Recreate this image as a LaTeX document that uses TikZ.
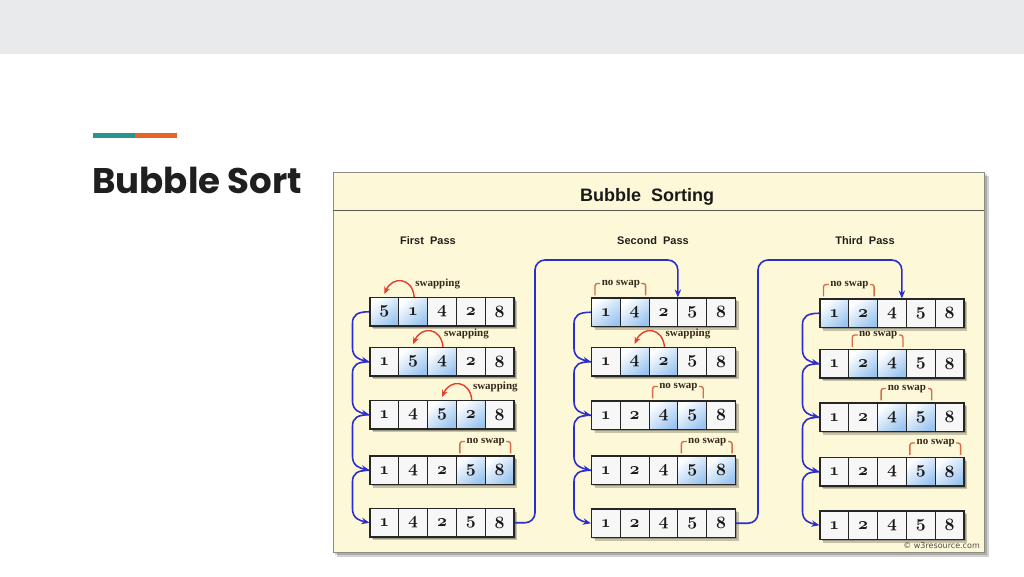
\documentclass[tikz,border=0pt]{standalone}
\usepackage{fontspec}
\usetikzlibrary{calc,arrows.meta}
\newfontfamily\sansb{Liberation Sans}
\newfontfamily\serifl{Liberation Serif}
\newfontfamily\dejav{DejaVu Sans}
\newfontfamily\popp{Poppins}
\definecolor{topbar}{RGB}{232,234,236}
\definecolor{teal}{RGB}{38,150,140}
\definecolor{orng}{RGB}{232,100,35}
\definecolor{panel}{RGB}{253,249,216}
\definecolor{panelborder}{RGB}{140,140,130}
\definecolor{flowblue}{RGB}{45,45,205}
\definecolor{swapred}{RGB}{228,62,42}
\definecolor{brk}{RGB}{214,108,72}
\definecolor{hlblue}{RGB}{155,197,240}
\definecolor{lbltext}{RGB}{55,40,30}
\newcommand\onum[1]{{\usefont{OML}{cmm}{b}{it}#1}}
\def\cw{28.8}
\def\ch{28.5}
\tikzset{
  cell/.style={draw=black!85, line width=1.1pt, fill=white!97!black, minimum width=28.8pt, minimum height=28.5pt, inner sep=0pt, text=black!90, font=\fontsize{17.28}{17}\selectfont},
  hlcell/.style={cell, top color=white, bottom color=hlblue, shading angle=40},
  flow/.style={draw=flowblue, line width=1.6pt, -{Stealth[length=8pt,width=6.5pt]}},
  swaparrow/.style={draw=swapred, line width=1.4pt, -{Stealth[length=7pt,width=6pt]}},
  bracket/.style={draw=brk, line width=1.4pt, rounded corners=2.5pt},
  lbl/.style={font=\fontsize{11}{12}\selectfont\serifl\bfseries, text=lbltext, inner sep=0pt},
  passlbl/.style={font=\fontsize{11}{12}\selectfont\sansb\bfseries, text=black!88},
  rowshadow/.style={fill=black, opacity=0.22}
}
% #1 name, #2 x, #3 y (top), #4 numbers, #5 first highlighted index (9 = none)
\newcommand\cellrow[5]{%
  \fill[rowshadow] (#2+3.2,#3+3.2) rectangle ++(5*\cw,\ch);
  \fill[rowshadow] (#2+1.8,#3+1.8) rectangle ++(5*\cw,\ch);
  \foreach \v [count=\i] in {#4}{%
    \pgfmathtruncatemacro\dd{\i-#5}%
    \ifnum\dd<0
      \node[cell] (#1-\i) at (#2+\i*\cw-0.5*\cw, #3+0.5*\ch) {\onum{\v}};
    \else\ifnum\dd>1
      \node[cell] (#1-\i) at (#2+\i*\cw-0.5*\cw, #3+0.5*\ch) {\onum{\v}};
    \else
      \node[hlcell] (#1-\i) at (#2+\i*\cw-0.5*\cw, #3+0.5*\ch) {\onum{\v}};
    \fi\fi
  }%
}
\newcommand\linkrows[2]{%
  \draw[flow] (#1-1.west) .. controls ($(#1-1.west)+(-12,0)$) and ($(#1-1.west)+(-17,3)$) .. ($(#1-1.west)+(-17,12)$)
    -- ($(#2-1.west)+(-17,-14)$) .. controls ($(#2-1.west)+(-17,-4)$) and ($(#2-1.west)+(-9,-2)$) .. (#2-1.west);
}
% #1 row, #2 from cell, #3 to cell
\newcommand\swaparc[3]{%
  \draw[swaparrow] ($(#1-#2.north)+(1,0)$) .. controls ($(#1-#2.north)+(-1,-20)$) and ($(#1-#3.north)+(8,-21)$) .. ($(#1-#3.north)+(0,-3)$);
  \node[lbl, anchor=base west] (#1-sw) at ($(#1-#2.north)+(2,-10)$) {swapping};
}
% #1 row, #2 cell k, #3 cell k+1
\newcommand\noswap[3]{%
  \draw[bracket] ($(#1-#2.north west)+(4,-2)$) -- ($(#1-#2.north west)+(4,-14)$) -- ($(#1-#3.north east)+(-4,-14)$) -- ($(#1-#3.north east)+(-4,-2)$);
  \node[lbl, fill=panel, inner xsep=1.5pt] (#1-ns) at ($(#1-#2.north east)+(0,-13.5)$) {no swap};
}
\begin{document}
\begin{tikzpicture}[x=1pt,y=-1pt]
\useasboundingbox (0,0) rectangle (1024,576);
\fill[white] (0,0) rectangle (1024,576);
\fill[topbar] (0,0) rectangle (1024,54);
\fill[teal] (93,133) rectangle (135,137.5);
\fill[orng] (135,133) rectangle (177,137.5);
\node[anchor=base west, inner sep=0pt, font=\fontsize{35.6}{36}\selectfont\popp\bfseries, text=black!88] (title) at (92,193) {Bubble Sort};

% panel
\fill[black, opacity=0.18] (337,176) rectangle (989,557);
\fill[black, opacity=0.18] (335,174) rectangle (987,555);
\filldraw[fill=panel, draw=panelborder, line width=0.8pt] (333,172) rectangle (984,552);
\draw[black!65, line width=1pt] (333,210) -- (984,210);
\node[anchor=base, inner sep=0pt, font=\fontsize{18}{20}\selectfont\sansb\bfseries, text=black!90] (ptitle) at (647,201) {Bubble~~Sorting};
\node[passlbl] (p1) at (428,241) {First~~Pass};
\node[passlbl] (p2) at (653,241) {Second~~Pass};
\node[passlbl] (p3) at (865,241) {Third~~Pass};
\node[anchor=base east, inner sep=0pt, font=\fontsize{8}{9}\selectfont\dejav, text=black!70] (copy) at (980,548) {© w3resource.com};

% first pass
\cellrow{a1}{370}{297.5}{5,1,4,2,8}{1}
\cellrow{a2}{370}{347.5}{1,5,4,2,8}{2}
\cellrow{a3}{370}{400.5}{1,4,5,2,8}{3}
\cellrow{a4}{370}{456}{1,4,2,5,8}{4}
\cellrow{a5}{370}{508.5}{1,4,2,5,8}{9}
% second pass
\cellrow{b1}{591.5}{298}{1,4,2,5,8}{1}
\cellrow{b2}{591.5}{347.5}{1,4,2,5,8}{2}
\cellrow{b3}{591.5}{401}{1,2,4,5,8}{3}
\cellrow{b4}{591.5}{456}{1,2,4,5,8}{4}
\cellrow{b5}{591.5}{509}{1,2,4,5,8}{9}
% third pass
\cellrow{c1}{820}{299}{1,2,4,5,8}{1}
\cellrow{c2}{820}{349.5}{1,2,4,5,8}{2}
\cellrow{c3}{820}{403}{1,2,4,5,8}{3}
\cellrow{c4}{820}{457.5}{1,2,4,5,8}{4}
\cellrow{c5}{820}{511}{1,2,4,5,8}{9}

% annotations
\swaparc{a1}{2}{1}
\swaparc{a2}{3}{2}
\swaparc{a3}{4}{3}
\noswap{a4}{4}{5}
\noswap{b1}{1}{2}
\swaparc{b2}{3}{2}
\noswap{b3}{3}{4}
\noswap{b4}{4}{5}
\noswap{c1}{1}{2}
\noswap{c2}{2}{3}
\noswap{c3}{3}{4}
\noswap{c4}{4}{5}

% row links
\linkrows{a1}{a2}\linkrows{a2}{a3}\linkrows{a3}{a4}\linkrows{a4}{a5}
\linkrows{b1}{b2}\linkrows{b2}{b3}\linkrows{b3}{b4}\linkrows{b4}{b5}
\linkrows{c1}{c2}\linkrows{c2}{c3}\linkrows{c3}{c4}\linkrows{c4}{c5}

% pass links
\coordinate (j1) at (535,260);
\coordinate (j2) at (758,260);
\coordinate (t2) at ($(b1-4.north west)+(0.5,0)$);
\coordinate (t3) at ($(c1-4.north west)+(-4,0)$);
\draw[flow, rounded corners=10pt] (a5-5.east) -| (j1) -| (t2);
\draw[flow, rounded corners=10pt] (b5-5.east) -| (j2) -| (t3);
\end{tikzpicture}
\end{document}
